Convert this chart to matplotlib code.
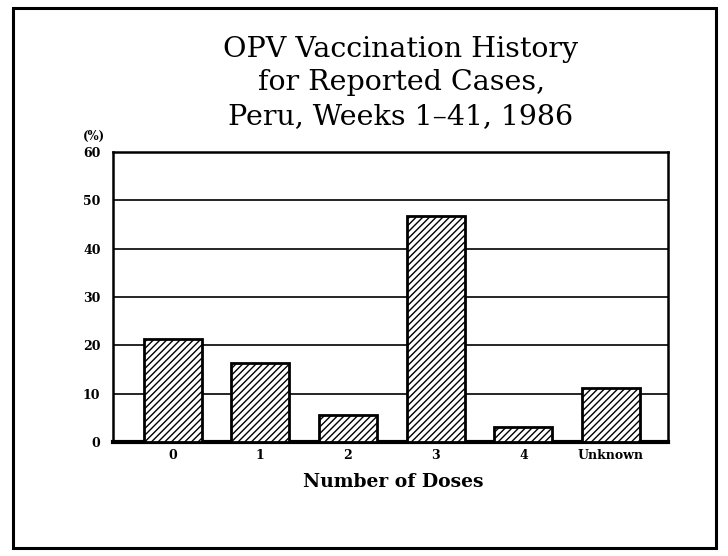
""" OPV vaccination history bar chart
"""
import matplotlib.pyplot as plt
from matplotlib.patches import Rectangle

# data
doses = ['0', '1', '2', '3', '4', 'Unknown']
pct = [21.3, 16.4, 5.6, 46.8, 3.1, 11.2]
yticks = [0, 10, 20, 30, 40, 50, 60]

title = 'OPV Vaccination History\nfor Reported Cases,\nPeru, Weeks 1\u201341, 1986'
xlab = 'Number of Doses'

plt.rcParams['hatch.linewidth'] = 1.0
fig = plt.figure(figsize=(7.28, 5.56), dpi=100)

# outer frame
fig.patches.append(Rectangle((13/728, 1 - 548/556), 703/728, 540/556,
                             transform=fig.transFigure, fill=False,
                             edgecolor='black', linewidth=2.2))

ax = fig.add_axes([113/728, 1 - 442/556, 555/728, 290/556])
x = range(len(doses))
ax.bar(x, pct, width=0.66, color='white', edgecolor='black',
       linewidth=2, hatch='/////', zorder=3)
ax.set_xlim(-0.68, 5.65)
ax.set_ylim(0, 60)
ax.set_yticks(yticks)
ax.set_xticks(list(x))
ax.set_xticklabels(doses)
ax.yaxis.grid(True, color='black', linewidth=1.2, zorder=0)
for s in ax.spines.values():
    s.set_linewidth(1.8)
ax.spines['bottom'].set_linewidth(3)
ax.tick_params(axis='x', length=0, pad=5)
ax.tick_params(axis='y', length=0, pad=9)
for lbl in ax.get_xticklabels() + ax.get_yticklabels():
    lbl.set_fontfamily('DejaVu Serif')
    lbl.set_fontweight('bold')
    lbl.set_fontsize(9)

ax.text(-0.035, 1.03, '(%)', transform=ax.transAxes, ha='center',
        va='bottom', fontsize=8.5, fontweight='bold', family='DejaVu Serif')
fig.text(401/728, 1 - 83/556, title, ha='center', va='center',
         fontsize=20.5, family='DejaVu Serif', linespacing=1.33)
fig.text(393/728, 1 - 482/556, xlab, ha='center', va='center',
         fontsize=13.5, fontweight='bold', family='DejaVu Serif')

fig.savefig('out.png', dpi=100)
